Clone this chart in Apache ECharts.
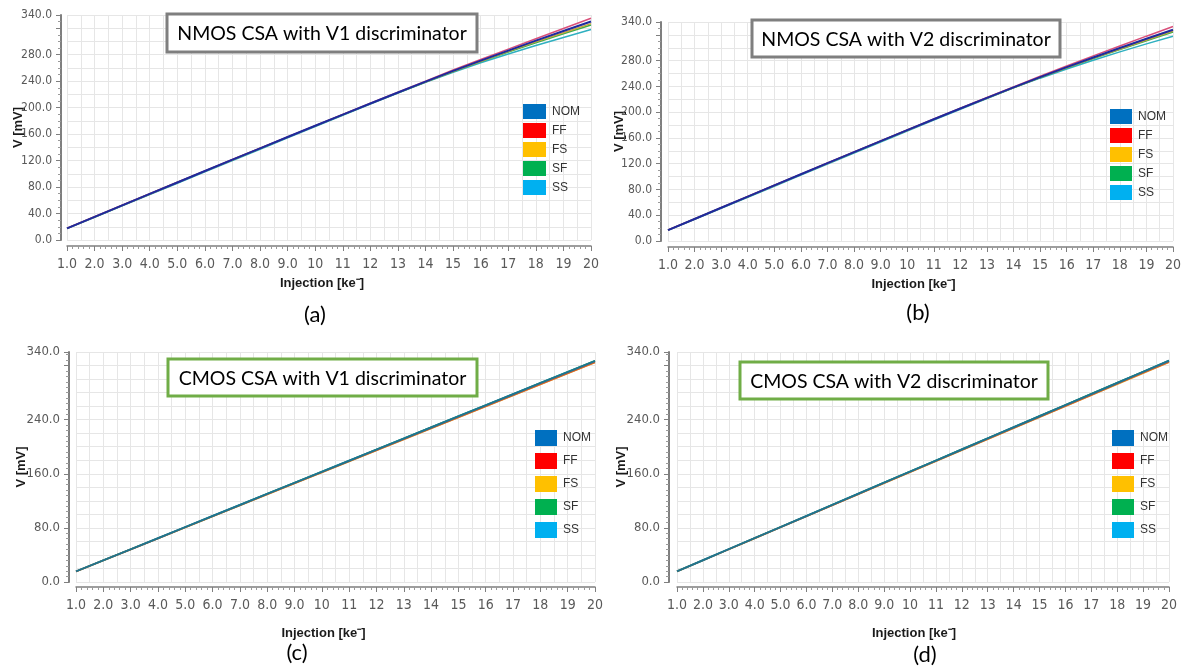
<!DOCTYPE html>
<html>
<head>
<meta charset="utf-8">
<script src="https://cdn.jsdelivr.net/npm/echarts@6/dist/echarts.min.js"></script>
<style>
  html, body { margin: 0; padding: 0; background: #ffffff; }
  #chart { width: 1184px; height: 666px; }
</style>
</head>
<body>
<div id="chart"></div>
<script>
// Injected charge [ke-]
const injection = [1, 2, 3, 4, 5, 6, 7, 8, 9, 10, 11, 12, 13, 14, 15, 16, 17, 18, 19, 20];
const cornerNames = ['NOM', 'FF', 'FS', 'SF', 'SS'];

// (a) NMOS CSA, V1 discriminator – output amplitude [mV]
const nmosV1Nom = [17.5, 34.9, 52.3, 69.6, 86.9, 104.2, 121.4, 138.5, 155.6, 172.6, 189.5, 206.3, 222.9, 239.3, 255.5, 271.0, 286.2, 301.2, 315.8, 330.2];
const nmosV1Ff  = [17.7, 35.2, 52.6, 69.9, 87.2, 104.5, 121.7, 138.8, 155.9, 172.9, 189.8, 206.6, 223.3, 240.0, 256.8, 272.8, 288.5, 304.0, 319.5, 335.0];
const nmosV1Fs  = [17.5, 34.9, 52.3, 69.6, 86.9, 104.1, 121.3, 138.4, 155.5, 172.5, 189.4, 206.1, 222.7, 239.0, 254.9, 270.2, 285.0, 299.4, 313.3, 327.0];
const nmosV1Sf  = [17.5, 34.8, 52.2, 69.5, 86.8, 104.0, 121.2, 138.3, 155.4, 172.4, 189.3, 206.0, 222.6, 238.8, 254.6, 269.6, 284.1, 298.0, 311.6, 325.0];
const nmosV1Ss  = [17.3, 34.4, 51.5, 68.6, 85.7, 102.9, 120.1, 137.2, 154.4, 171.5, 188.5, 205.3, 221.9, 238.3, 253.5, 267.8, 281.2, 293.8, 306.0, 318.0];

// (b) NMOS CSA, V2 discriminator
const nmosV2Nom = [16.8, 34.2, 51.6, 69.0, 86.3, 103.6, 120.8, 138.0, 155.1, 172.1, 189.0, 205.7, 222.2, 238.5, 254.5, 269.9, 284.9, 299.6, 313.9, 328.0];
const nmosV2Ff  = [17.0, 34.4, 51.9, 69.3, 86.6, 103.9, 121.1, 138.3, 155.4, 172.4, 189.3, 206.1, 222.7, 239.2, 255.8, 271.8, 287.4, 302.8, 318.0, 333.0];
const nmosV2Fs  = [16.8, 34.2, 51.6, 68.9, 86.2, 103.5, 120.7, 137.9, 155.0, 172.0, 188.9, 205.6, 222.0, 238.2, 254.0, 269.2, 283.9, 298.1, 312.0, 325.8];
const nmosV2Sf  = [16.8, 34.1, 51.5, 68.8, 86.1, 103.4, 120.6, 137.8, 154.9, 171.9, 188.8, 205.5, 221.9, 238.0, 253.8, 268.8, 283.3, 297.3, 311.0, 324.5];
const nmosV2Ss  = [16.6, 33.7, 50.8, 67.9, 85.1, 102.3, 119.5, 136.7, 153.8, 170.8, 187.7, 204.4, 221.0, 237.8, 252.8, 267.0, 280.6, 293.6, 306.0, 318.0];

// (c) CMOS CSA, V1 discriminator
const cmosV1Nom = [15.6, 32.0, 48.3, 64.7, 81.1, 97.5, 113.8, 130.2, 146.6, 162.9, 179.3, 195.7, 212.0, 228.4, 244.8, 261.2, 277.5, 293.9, 310.3, 326.6];
const cmosV1Ff  = [15.6, 31.9, 48.1, 64.4, 80.7, 97.0, 113.2, 129.5, 145.8, 162.0, 178.3, 194.6, 210.8, 227.1, 243.4, 259.7, 275.9, 292.2, 308.5, 324.7];
const cmosV1Fs  = [15.5, 31.8, 48.0, 64.3, 80.5, 96.8, 113.0, 129.3, 145.5, 161.8, 178.0, 194.3, 210.5, 226.8, 243.0, 259.3, 275.5, 291.8, 308.0, 324.3];
const cmosV1Sf  = [15.7, 32.1, 48.4, 64.8, 81.2, 97.6, 114.0, 130.4, 146.8, 163.1, 179.5, 195.9, 212.3, 228.7, 245.1, 261.5, 277.8, 294.2, 310.6, 327.0];
const cmosV1Ss  = [15.7, 32.1, 48.5, 64.9, 81.3, 97.7, 114.1, 130.5, 146.9, 163.3, 179.7, 196.1, 212.5, 228.9, 245.3, 261.7, 278.1, 294.5, 310.9, 327.2];

// (d) CMOS CSA, V2 discriminator
const cmosV2Nom = [15.7, 32.1, 48.5, 64.9, 81.2, 97.6, 114.0, 130.4, 146.8, 163.1, 179.5, 195.9, 212.3, 228.7, 245.0, 261.4, 277.8, 294.2, 310.6, 327.0];
const cmosV2Ff  = [15.7, 32.0, 48.3, 64.6, 80.9, 97.2, 113.5, 129.8, 146.1, 162.4, 178.7, 195.0, 211.3, 227.6, 243.9, 260.2, 276.5, 292.8, 309.1, 325.2];
const cmosV2Fs  = [15.6, 31.9, 48.2, 64.4, 80.7, 97.0, 113.3, 129.5, 145.8, 162.1, 178.4, 194.6, 210.9, 227.2, 243.5, 259.7, 276.0, 292.3, 308.6, 324.8];
const cmosV2Sf  = [15.8, 32.2, 48.6, 65.0, 81.4, 97.8, 114.2, 130.6, 147.0, 163.4, 179.8, 196.2, 212.6, 229.0, 245.4, 261.8, 278.2, 294.6, 311.0, 327.3];
const cmosV2Ss  = [15.8, 32.2, 48.6, 65.0, 81.4, 97.8, 114.2, 130.6, 147.0, 163.4, 179.8, 196.2, 212.6, 229.0, 245.4, 261.8, 278.2, 294.6, 311.0, 327.4];

// Axis ranges and tick steps
const injectionRange = [1, 20];
const voltageRange = [0, 340];
const nmosVoltStep = 40;
const cmosVoltStep = 80;

// Panel captions and titles
const panelTitles = ['NMOS CSA with V1 discriminator', 'NMOS CSA with V2 discriminator',
                     'CMOS CSA with V1 discriminator', 'CMOS CSA with V2 discriminator'];
const panelTags = ['(a)', '(b)', '(c)', '(d)'];

// Legend swatch colours and drawn trace colours per corner
const legendColors = { NOM: '#0070c0', FF: '#ff0000', FS: '#ffc000', SF: '#00b050', SS: '#00b0f0' };
const nmosTraceColors = { NOM: '#1e2a9e', FF: '#d9507a', FS: '#c9a43c', SF: '#3cae4a', SS: '#2fb0c0' };
const cmosTraceColors = { NOM: '#1f7490', FF: '#e05a2b', FS: '#e0a82e', SF: '#2e9a5e', SS: '#35a9c9' };

const panelData = [
  { NOM: nmosV1Nom, FF: nmosV1Ff, FS: nmosV1Fs, SF: nmosV1Sf, SS: nmosV1Ss },
  { NOM: nmosV2Nom, FF: nmosV2Ff, FS: nmosV2Fs, SF: nmosV2Sf, SS: nmosV2Ss },
  { NOM: cmosV1Nom, FF: cmosV1Ff, FS: cmosV1Fs, SF: cmosV1Sf, SS: cmosV1Ss },
  { NOM: cmosV2Nom, FF: cmosV2Ff, FS: cmosV2Fs, SF: cmosV2Sf, SS: cmosV2Ss }
];

// Layout of the four plot areas (legend positions include its 5px padding)
const layout = [
  { grid: { left: 67, top: 15, width: 524, height: 225 }, yOff: 6, xOff: 6, step: nmosVoltStep, minor: 4, nameGapX: 31, namePadX: 14, nameGapY: 36, yLabelSize: 12,
    legend: { left: 518, top: 99, w: 23, h: 15, gap: 4 },
    box: { x: 167, y: 14, w: 310, h: 38, stroke: '#7f7f7f' }, tag: { x: 315, y: 315 } },
  { grid: { left: 668, top: 22, width: 507, height: 219 }, yOff: 7, xOff: 6, step: nmosVoltStep, minor: 4, nameGapX: 31, namePadX: 14, nameGapY: 35, yLabelSize: 12,
    legend: { left: 1105, top: 104, w: 22, h: 15, gap: 4 },
    box: { x: 752, y: 20, w: 308, h: 37, stroke: '#7f7f7f' }, tag: { x: 918, y: 313 } },
  { grid: { left: 76, top: 352, width: 519, height: 230 }, yOff: 7, xOff: 5, step: cmosVoltStep, minor: 10, nameGapX: 40, namePadX: 24, nameGapY: 41, yLabelSize: 13,
    legend: { left: 530, top: 425, w: 22, h: 16, gap: 7 },
    box: { x: 168, y: 359, w: 309, h: 37, stroke: '#70ad47' }, tag: { x: 297, y: 653 } },
  { grid: { left: 677, top: 352, width: 492, height: 230 }, yOff: 8, xOff: 5, step: cmosVoltStep, minor: 10, nameGapX: 40, namePadX: 18, nameGapY: 41, yLabelSize: 13,
    legend: { left: 1107, top: 425, w: 22, h: 16, gap: 7 },
    box: { x: 740, y: 362, w: 308, h: 37, stroke: '#70ad47' }, tag: { x: 925, y: 655 } }
];

const axisGray = '#7f7f7f';
const gridGray = '#e6e6e6';
const labelFont = '"Liberation Sans Narrow", "DejaVu Sans Condensed", sans-serif';
const nameFont = '"Liberation Sans", Arial, sans-serif';
const boxFont = 'Lato, "Open Sans", sans-serif';

const grids = [];
const xAxes = [];
const yAxes = [];
const series = [];
const legends = [];
const graphics = [];

layout.forEach((p, i) => {
  grids.push(p.grid);

  // visible injection axis
  xAxes.push({
    gridIndex: i, type: 'value', min: injectionRange[0], max: injectionRange[1], interval: 1,
    offset: p.xOff,
    name: 'Injection [ke⁻]', nameLocation: 'middle', nameGap: p.nameGapX,
    nameTextStyle: { fontFamily: nameFont, fontWeight: 'bold', fontSize: 13, color: '#1a1a1a', padding: [0, p.namePadX, 0, 0] },
    axisLine: { show: true, onZero: false, lineStyle: { color: axisGray, width: 1.5 } },
    axisTick: { show: true, length: 5, lineStyle: { color: axisGray } },
    minorTick: { show: true, splitNumber: 5, length: 3, lineStyle: { color: '#9a9a9a' } },
    axisLabel: { fontFamily: labelFont, fontSize: 14, color: '#595959', margin: 11,
      formatter: v => (v < 10 ? v.toFixed(1) : String(Math.round(v))) },
    splitLine: { show: false }
  });
  // background grid, half-unit spacing
  xAxes.push({
    gridIndex: i, type: 'value', min: injectionRange[0], max: injectionRange[1], interval: 0.5,
    axisLine: { show: false }, axisTick: { show: false }, axisLabel: { show: false },
    splitLine: { show: true, lineStyle: { color: gridGray, width: 1 } }
  });

  // visible voltage axis
  yAxes.push({
    gridIndex: i, type: 'value', min: voltageRange[0], max: voltageRange[1], interval: p.step,
    offset: p.yOff,
    name: 'V [mV]', nameLocation: 'middle', nameGap: p.nameGapY, nameMoveOverlap: false,
    nameTextStyle: { fontFamily: nameFont, fontWeight: 'bold', fontSize: 13, color: '#1a1a1a' },
    axisLine: { show: true, onZero: false, lineStyle: { color: axisGray, width: 2 } },
    axisTick: { show: true, length: 5, lineStyle: { color: axisGray } },
    minorTick: { show: true, splitNumber: p.minor, length: 3, lineStyle: { color: '#9a9a9a' } },
    axisLabel: { fontFamily: labelFont, fontSize: p.yLabelSize, color: '#595959', margin: 9,
      formatter: v => (v === 320 ? '' : v.toFixed(1)) },
    splitLine: { show: false }
  });
  // background grid, 20 mV spacing
  yAxes.push({
    gridIndex: i, type: 'value', min: voltageRange[0], max: voltageRange[1], interval: 20,
    axisLine: { show: false }, axisTick: { show: false }, axisLabel: { show: false },
    splitLine: { show: true, lineStyle: { color: gridGray, width: 1 } }
  });

  // traces: NOM drawn last so it sits on top
  const traceColors = i < 2 ? nmosTraceColors : cmosTraceColors;
  ['SS', 'SF', 'FS', 'FF', 'NOM'].forEach(name => {
    const vals = panelData[i][name];
    series.push({
      type: 'line', name: name,
      xAxisIndex: i * 2, yAxisIndex: i * 2,
      symbol: 'none', showSymbol: false,
      lineStyle: { color: traceColors[name], width: name === 'NOM' ? 2 : 1.5 },
      itemStyle: { color: legendColors[name] },
      data: injection.map((x, k) => [x, vals[k]]),
      z: 3
    });
  });

  legends.push({
    orient: 'vertical', left: p.legend.left, top: p.legend.top,
    icon: 'rect', itemWidth: p.legend.w, itemHeight: p.legend.h, itemGap: p.legend.gap,
    selectedMode: false,
    textStyle: { fontFamily: nameFont, fontSize: 12, color: '#333333', padding: [0, 0, 0, 1] },
    data: cornerNames.map(n => ({ name: n, itemStyle: { color: legendColors[n] } }))
  });

  // titled frame inside the plot
  graphics.push({
    type: 'rect', z: 10,
    shape: { x: p.box.x, y: p.box.y, width: p.box.w, height: p.box.h },
    style: { fill: '#ffffff', stroke: p.box.stroke, lineWidth: 3 }
  });
  graphics.push({
    type: 'text', z: 11,
    x: p.box.x + p.box.w / 2, y: p.box.y + p.box.h / 2 + 1,
    style: { text: panelTitles[i], font: '19.5px ' + boxFont, fill: '#000000', align: 'center', verticalAlign: 'middle' }
  });
  // panel tag below the plot
  graphics.push({
    type: 'text', z: 11, x: p.tag.x, y: p.tag.y,
    style: { text: panelTags[i], font: '22px ' + boxFont, fill: '#000000', align: 'center', verticalAlign: 'middle' }
  });
});

const chart = echarts.init(document.getElementById('chart'), null, { renderer: 'canvas' });
chart.setOption({
  animation: false,
  backgroundColor: '#ffffff',
  grid: grids,
  xAxis: xAxes,
  yAxis: yAxes,
  legend: legends,
  series: series,
  graphic: graphics
});
</script>
</body>
</html>
